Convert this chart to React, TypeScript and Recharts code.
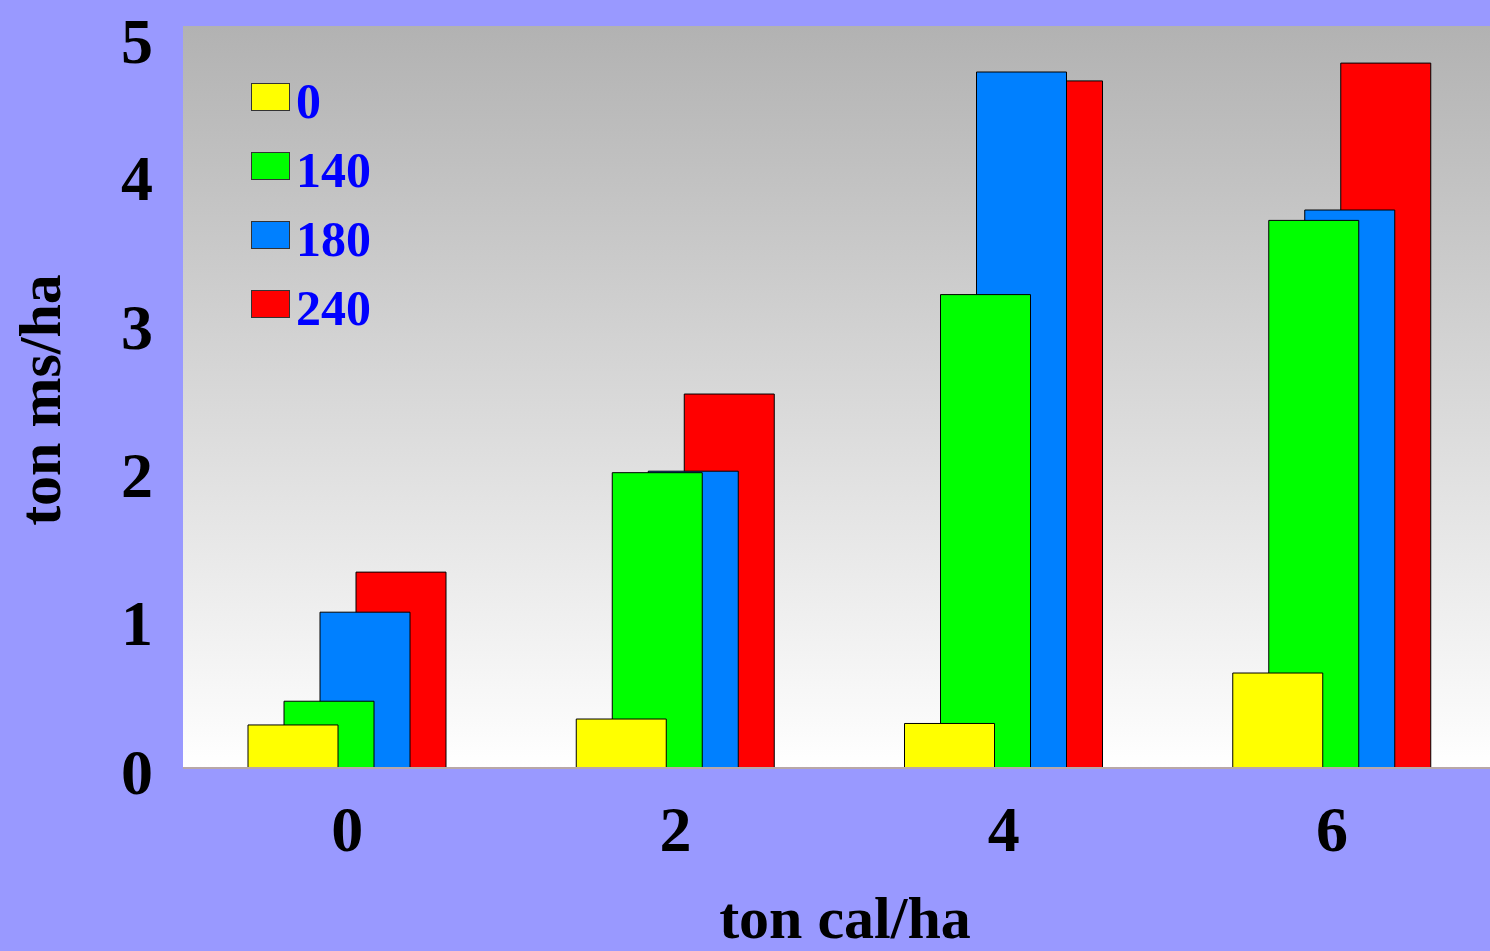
import React from 'react'
import { BarChart, Bar, XAxis, YAxis, CartesianGrid, Legend, Label } from 'recharts'

const categories = ['0', '2', '4', '6']
const dose0 = [0.29, 0.33, 0.3, 0.64]
const dose140 = [0.45, 1.99, 3.19, 3.69]
const dose180 = [1.05, 2.0, 4.69, 3.76]
const dose240 = [1.32, 2.52, 4.63, 4.75]
const yTicks = [0, 1, 2, 3, 4, 5]

const SERIES = [
  { key: 'd0', name: '0', values: dose0, color: '#FFFF00' },
  { key: 'd140', name: '140', values: dose140, color: '#00FF00' },
  { key: 'd180', name: '180', values: dose180, color: '#0080FF' },
  { key: 'd240', name: '240', values: dose240, color: '#FF0000' },
]

const data = categories.map((cat, i) => {
  const row: Record<string, string | number> = { cat }
  SERIES.forEach((s) => {
    row[s.key] = s.values[i]
  })
  return row
})

const FONT = "'Liberation Serif', 'Times New Roman', serif"

function LegendBox({ payload }: any) {
  return (
    <div style={{ fontFamily: FONT }}>
      {(payload || []).map((entry: any) => (
        <div key={entry.value} style={{ display: 'flex', alignItems: 'center', height: 69 }}>
          <div
            style={{
              width: 37,
              height: 26,
              background: entry.color,
              border: '1.5px solid #333',
            }}
          />
          <span
            style={{
              marginLeft: 6,
              fontSize: 50,
              fontWeight: 'bold',
              color: '#0000FF',
              lineHeight: 1,
              position: 'relative',
              top: 4,
            }}
          >
            {entry.value}
          </span>
        </div>
      ))}
    </div>
  )
}

export default function App() {
  return (
    <div
      style={{
        position: 'absolute',
        left: 0,
        top: 0,
        width: 1490,
        height: 951,
        overflow: 'hidden',
        background: '#9999FF',
      }}
    >
      {/* plot runs a few px past the right edge in the original */}
      <BarChart
        width={1496}
        height={951}
        data={data}
        margin={{ top: 26, right: 0, bottom: 0, left: 0 }}
        barSize={90}
        barGap={-54}
      >
        <defs>
          <linearGradient id="plotBg" x1="0" y1="0" x2="0" y2="1">
            <stop offset="0%" stopColor="#B2B2B2" />
            <stop offset="100%" stopColor="#FFFFFF" />
          </linearGradient>
        </defs>
        <CartesianGrid fill="url(#plotBg)" stroke="none" horizontal={false} vertical={false} />
        <XAxis
          dataKey="cat"
          height={183}
          tickLine={false}
          tickMargin={32}
          axisLine={{ stroke: '#B8A8A8', strokeWidth: 2 }}
          tick={{ fill: '#000', fontSize: 64, fontWeight: 'bold', fontFamily: FONT }}
        >
          <Label
            content={() => (
              <text
                x={845}
                y={938}
                textAnchor="middle"
                fontSize={60}
                fontWeight="bold"
                fontFamily={FONT}
                fill="#000"
              >
                ton cal/ha
              </text>
            )}
          />
        </XAxis>
        <YAxis
          width={183}
          domain={[0, 5]}
          ticks={yTicks}
          tickLine={false}
          axisLine={false}
          tickMargin={24}
          tick={{ fill: '#000', fontSize: 64, fontWeight: 'bold', fontFamily: FONT, dy: 3 }}
        >
          <Label
            content={() => (
              <text
                x={60}
                y={400}
                transform="rotate(-90, 60, 400)"
                textAnchor="middle"
                fontSize={60}
                fontWeight="bold"
                fontFamily={FONT}
                fill="#000"
              >
                ton ms/ha
              </text>
            )}
          />
        </YAxis>
        <Legend
          layout="vertical"
          align="center"
          verticalAlign="middle"
          wrapperStyle={{ left: 251, top: 62, width: 'auto' }}
          content={<LegendBox />}
        />
        {SERIES.map((s, i) => (
          <Bar
            key={s.key}
            dataKey={s.key}
            name={s.name}
            fill={s.color}
            stroke="#000"
            strokeWidth={1}
            zIndex={310 - i}
            isAnimationActive={false}
          />
        ))}
      </BarChart>
    </div>
  )
}
